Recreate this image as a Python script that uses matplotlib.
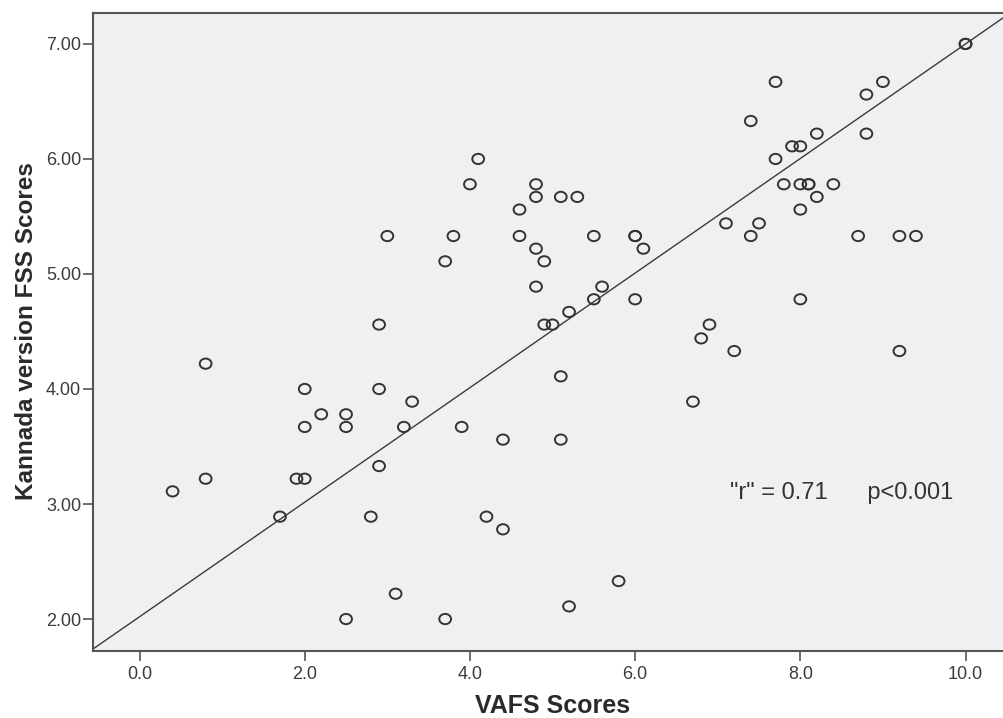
import numpy as np
import matplotlib
matplotlib.use("Agg")
from matplotlib import pyplot as plt
from matplotlib.path import Path

plt.rcParams['font.family'] = ['Liberation Sans', 'DejaVu Sans']

# VAFS score vs Kannada FSS score
vafs = [0.4, 0.8, 0.8, 1.7, 1.9, 2.0, 2.0, 2.0, 2.2, 2.5,
        2.5, 2.5, 2.8, 2.9, 2.9, 2.9, 3.0, 3.1, 3.2, 3.3,
        3.7, 3.7, 3.8, 3.9, 4.0, 4.1, 4.2, 4.4, 4.4, 4.6,
        4.6, 4.8, 4.8, 4.8, 4.8, 4.9, 4.9, 5.0, 5.1, 5.1,
        5.1, 5.2, 5.2, 5.3, 5.5, 5.5, 5.6, 5.8, 6.0, 6.0,
        6.0, 6.1, 6.7, 6.8, 6.9, 7.1, 7.2, 7.4, 7.4, 7.5,
        7.7, 7.7, 7.8, 7.9, 8.0, 8.0, 8.0, 8.0, 8.1, 8.1,
        8.2, 8.2, 8.4, 8.7, 8.8, 8.8, 9.0, 9.2, 9.2, 9.4,
        10.0, 10.0]
fss = [3.11, 4.22, 3.22, 2.89, 3.22, 3.22, 4.00, 3.67, 3.78, 3.78,
       3.67, 2.00, 2.89, 4.56, 4.00, 3.33, 5.33, 2.22, 3.67, 3.89,
       5.11, 2.00, 5.33, 3.67, 5.78, 6.00, 2.89, 3.56, 2.78, 5.56,
       5.33, 5.78, 5.67, 5.22, 4.89, 5.11, 4.56, 4.56, 5.67, 4.11,
       3.56, 4.67, 2.11, 5.67, 5.33, 4.78, 4.89, 2.33, 5.33, 5.33,
       4.78, 5.22, 3.89, 4.44, 4.56, 5.44, 4.33, 6.33, 5.33, 5.44,
       6.67, 6.00, 5.78, 6.11, 6.11, 5.78, 5.56, 4.78, 5.78, 5.78,
       6.22, 5.67, 5.78, 5.33, 6.56, 6.22, 6.67, 5.33, 4.33, 5.33,
       7.00, 7.00]

fit_intercept = 2.02
fit_slope = 0.498
xticks = [0, 2, 4, 6, 8, 10]
yticks = [2, 3, 4, 5, 6, 7]

fig = plt.figure(figsize=(10.04, 7.18), dpi=100)
ax = fig.add_axes([0.0926, 0.0933, 0.9074, 0.8886])
ax.set_facecolor('#eff0f2')

# slightly wide open circle, like the SPSS marker
circ = Path.unit_circle()
ell = Path(circ.vertices * np.array([1.15, 1.0]), circ.codes)

ax.scatter(vafs, fss, marker=ell, s=72, facecolors='none',
           edgecolors='#333333', linewidths=1.4, zorder=3)
ax.axline((0, fit_intercept), slope=fit_slope, color='#3a3a3a', lw=1.0, zorder=2)

ax.set_xlim(-0.564, 10.466)
ax.set_ylim(1.722, 7.269)
ax.set_xticks(xticks)
ax.set_xticklabels(["%.1f" % v for v in xticks])
ax.set_yticks(yticks)
ax.set_yticklabels(["%.2f" % v for v in yticks])

for s in ['left', 'bottom', 'top']:
    ax.spines[s].set_color('#555555')
    ax.spines[s].set_linewidth(1.5)
ax.spines['right'].set_visible(False)

ax.tick_params(axis='both', direction='out', length=7, width=1.2,
               color='#555555', labelcolor='#3c3c3c', labelsize=13)
ax.tick_params(axis='y', pad=1.5)
ax.tick_params(axis='x', pad=4)

ax.set_xlabel('VAFS Scores', fontsize=18, fontweight='bold', color='#2a2a2a')
ax.set_ylabel('Kannada version FSS Scores', fontsize=17.5, fontweight='bold', color='#2a2a2a')
ax.xaxis.set_label_coords(0.504, -0.067)
ax.yaxis.set_label_coords(-0.06, 0.5016)

ax.text(7.15, 3.10, '"r" = 0.71      p<0.001', fontsize=17, color='#333333',
        va='center', ha='left')

fig.savefig('out.png', dpi=100)
